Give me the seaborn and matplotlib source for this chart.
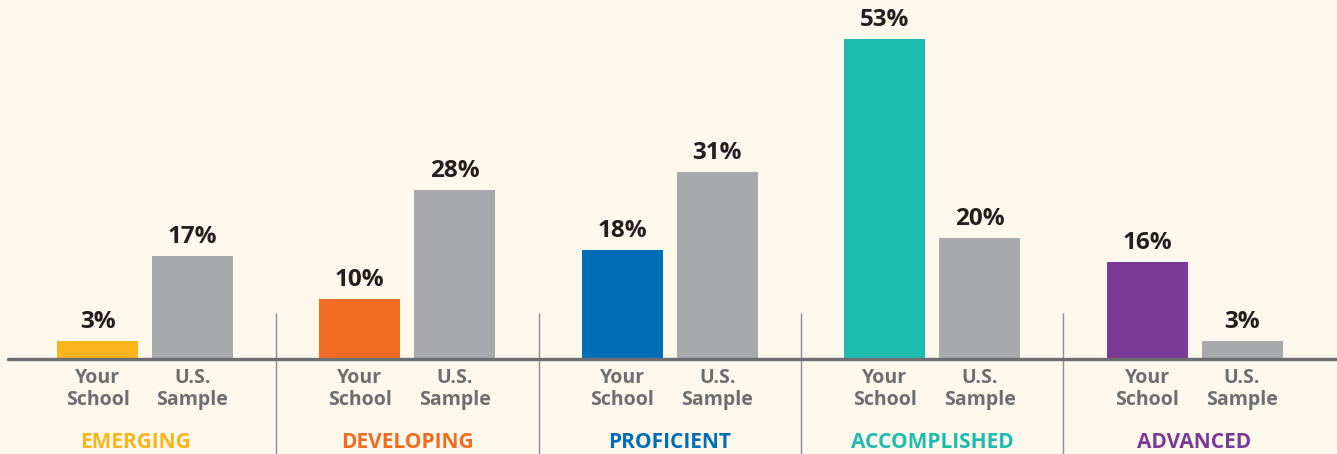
import pandas as pd
import numpy as np
import matplotlib.pyplot as plt
import seaborn as sns

levels = ['EMERGING', 'DEVELOPING', 'PROFICIENT', 'ACCOMPLISHED', 'ADVANCED']
your_school = [3, 10, 18, 53, 16]
us_sample = [17, 28, 31, 20, 3]
groups = ['Your\nSchool', 'U.S.\nSample']
level_colors = ['#F9B51B', '#F26B21', '#006EB7', '#1EBBAF', '#7B3A96']
gray_bar = '#A7A9AC'
bg = '#FDF8EC'


def main():
    df = pd.DataFrame({
        'level': levels * 2,
        'group': [groups[0]] * len(levels) + [groups[1]] * len(levels),
        'value': your_school + us_sample,
    })

    sns.set_style('white')
    plt.rcParams['font.family'] = ['Open Sans', 'DejaVu Sans']

    fig = plt.figure(figsize=(13.37, 4.54), dpi=100, facecolor=bg)
    ax = fig.add_axes([0, 0, 1, 1])
    ax.set_facecolor(bg)

    sns.barplot(data=df, x='level', y='value', hue='group', order=levels,
                hue_order=groups, width=0.724, gap=0.146, dodge=True,
                palette=[gray_bar, gray_bar], legend=False, ax=ax,
                saturation=1, linewidth=0)

    # recolor "Your School" bars by level, label every bar
    for i, container in enumerate(ax.containers):
        for j, bar in enumerate(container):
            if i == 0:
                bar.set_facecolor(level_colors[j])
            cx = bar.get_x() + bar.get_width() / 2
            h = bar.get_height()
            ax.annotate(f'{int(round(h))}%', (cx, h), xytext=(0, 5),
                        textcoords='offset points', ha='center', va='bottom',
                        fontsize=17.5, fontweight='bold', color='#231F20')
            ax.text(cx, -1.45, groups[i], ha='center', va='top',
                    fontsize=14, fontweight='bold', color='#6D6E71',
                    linespacing=1.12)

    for j, lvl in enumerate(levels):
        # the first label sits a little left of its group in the original
        shift = -0.035 if j == 0 else 0
        ax.text(j + shift, -14.7, lvl, ha='center', va='baseline',
                fontsize=15, fontweight='bold', color=level_colors[j])

    ylo, yhi = -15.73, 59.44
    for j in range(len(levels) - 1):
        ax.plot([j + 0.5, j + 0.5], [ylo, 7.6], color='#8C8C8C', lw=1.0,
                solid_capstyle='butt')

    ax.axhline(0, xmin=8 / 1337, xmax=1, color='#6D6E71', lw=2.4, zorder=3)

    ax.set_xlim(-0.5526, 4.5427)
    ax.set_ylim(ylo, yhi)
    ax.set_axis_off()

    fig.savefig('out.png', dpi=100, facecolor=bg)
    plt.close(fig)


if __name__ == '__main__':
    main()
